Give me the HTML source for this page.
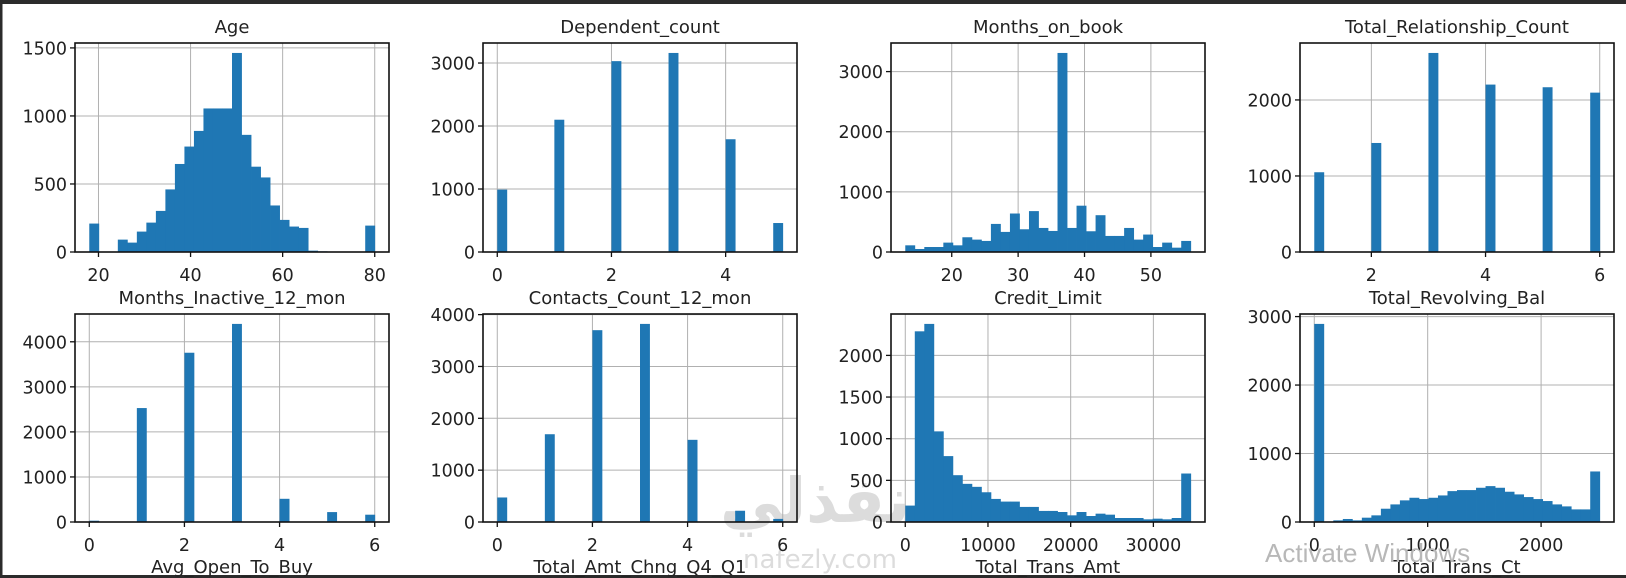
<!DOCTYPE html>
<html><head><meta charset="utf-8"><style>
html,body{margin:0;padding:0;background:#fff;}
svg{display:block;font-family:"DejaVu Sans","Liberation Sans",sans-serif;}
</style></head><body>
<svg id="fig" width="1626" height="578" viewBox="0 0 1626 578" xmlns="http://www.w3.org/2000/svg">
<rect x="0" y="0" width="1626" height="578" fill="#fff"/>
<rect x="0" y="0" width="1626" height="4" fill="#2b2b2b"/>
<rect x="0" y="0" width="2.5" height="578" fill="#2b2b2b"/>
<rect x="0" y="575" width="1626" height="3" fill="#2b2b2b"/>
<g fill="#d4d4d4" opacity="0.8">
<text x="815" y="522" font-size="62" font-weight="bold" text-anchor="middle" font-family="'DejaVu Sans',sans-serif">نفذلي</text>
<text x="820" y="568" font-size="26" text-anchor="middle">nafezly.com</text>
</g>
<g id="plots"></g>
<g font-size="18" fill="#222" text-anchor="middle">
<text x="232" y="573">Avg_Open_To_Buy</text>
<text x="640" y="573">Total_Amt_Chng_Q4_Q1</text>
<text x="1048" y="573">Total_Trans_Amt</text>
<text x="1457" y="573">Total_Trans_Ct</text>
</g>
<text x="1265" y="562" font-size="26" fill="#b8b8b8" font-family="'Liberation Sans',sans-serif">Activate Windows</text>
</svg>
<script>
const titles = ["Age","Dependent_count","Months_on_book","Total_Relationship_Count","Months_Inactive_12_mon","Contacts_Count_12_mon","Credit_Limit","Total_Revolving_Bal"];
const dataMin = [18, 0, 13, 1, 0, 0, 0, 0];
const dataMax = [80, 5, 56, 6, 6, 6, 34516, 2517];
const ageCounts = [209,0,0,91,69,150,216,302,460,647,775,890,1055,1055,1055,1463,861,627,548,342,236,187,177,10,5,0,0,0,0,194];
const dependentCounts = [990,0,0,0,0,0,2100,0,0,0,0,0,3030,0,0,0,0,0,3160,0,0,0,0,0,1790,0,0,0,0,460];
const monthsOnBookCounts = [111,50,83,83,156,111,245,206,184,467,334,640,378,680,400,350,3310,400,770,345,612,267,267,400,206,290,83,156,72,184];
const relationshipCounts = [1049,0,0,0,0,0,1434,0,0,0,0,0,2618,0,0,0,0,0,2202,0,0,0,0,0,2167,0,0,0,0,2096];
const inactiveCounts = [29,0,0,0,0,2529,0,0,0,0,3757,0,0,0,0,4397,0,0,0,0,515,0,0,0,0,220,0,0,0,162];
const contactsCounts = [473,0,0,0,0,1693,0,0,0,0,3700,0,0,0,0,3821,0,0,0,0,1585,0,0,0,0,217,0,0,0,60];
const creditLimitCounts = [197,2289,2378,1088,791,562,458,422,357,277,245,245,181,181,133,133,120,80,120,72,100,88,48,48,48,32,40,32,48,582];
const revolvingCounts = [2893,0,24,44,24,63,97,194,257,316,354,335,354,388,451,466,466,500,524,500,442,403,364,335,306,257,228,184,184,738];
const xTicks = [[20,40,60,80],[0,2,4],[20,30,40,50],[2,4,6],[0,2,4,6],[0,2,4,6],[0,10000,20000,30000],[0,1000,2000]];
const yTicks = [[0,500,1000,1500],[0,1000,2000,3000],[0,1000,2000,3000],[0,1000,2000],[0,1000,2000,3000,4000],[0,1000,2000,3000,4000],[0,500,1000,1500,2000],[0,1000,2000,3000]];
const allCounts = [ageCounts,dependentCounts,monthsOnBookCounts,relationshipCounts,inactiveCounts,contactsCounts,creditLimitCounts,revolvingCounts];

const NS = "http://www.w3.org/2000/svg";
const colLeft = [75,483,891,1300], rowTop = [43,314], rowH = [209,208], W = 314;
function mk(tag, attrs, parent){ const e=document.createElementNS(NS,tag); for(const k in attrs) e.setAttribute(k,attrs[k]); parent.appendChild(e); return e; }
function slug(s){ return s.toLowerCase().replace(/_/g,'-'); }
const root = document.getElementById('plots');
titles.forEach((t,i)=>{
  const L = colLeft[i%4], T = rowTop[Math.floor(i/4)], H = rowH[Math.floor(i/4)], B = T+H, R = L+W;
  const lo = dataMin[i], hi = dataMax[i], counts = allCounts[i];
  const pad = (hi-lo)*0.05, x0 = lo-pad, x1 = hi+pad;
  const ymax = Math.max(...counts)*1.05;
  const xs = v => L + (v-x0)/(x1-x0)*W;
  const ys = v => B - v/ymax*H;
  const g = mk('g',{},root);
  
  
  xTicks[i].forEach(v=>{ const l=mk('line',{x1:xs(v),x2:xs(v),y1:T,y2:B,stroke:'#b0b0b0','stroke-width':1},g);
      });
  yTicks[i].forEach(v=>{ const l=mk('line',{x1:L,x2:R,y1:ys(v),y2:ys(v),stroke:'#b0b0b0','stroke-width':1},g);
      });
  const bw = (hi-lo)/counts.length;
  counts.forEach((c,k)=>{ if(c<=0) return;
    const a = xs(lo+k*bw), b = xs(lo+(k+1)*bw);
    const r = mk('rect',{x:a,y:ys(c),width:b-a+0.4,height:B-ys(c),fill:'#1f77b4'},g);
    
    
  });
  const sp = mk('rect',{x:L,y:T,width:W,height:H,fill:'none',stroke:'#111','stroke-width':1.6},g);
  
  
  xTicks[i].forEach(v=>{ mk('line',{x1:xs(v),x2:xs(v),y1:B,y2:B+5,stroke:'#111','stroke-width':1.3},g);
    const tx = mk('text',{x:xs(v),y:B+29,'font-size':17.5,'text-anchor':'middle',fill:'#222'},g); tx.textContent=v;
      });
  yTicks[i].forEach(v=>{ mk('line',{x1:L-5,x2:L,y1:ys(v),y2:ys(v),stroke:'#111','stroke-width':1.3},g);
    const ty = mk('text',{x:L-8,y:ys(v)+6.5,'font-size':17.5,'text-anchor':'end',fill:'#222'},g); ty.textContent=v;
      });
  const tt = mk('text',{x:L+W/2,y:T-10,'font-size':18,'text-anchor':'middle',fill:'#222'},g); tt.textContent=t;
  
  
});
</script>
</body></html>
